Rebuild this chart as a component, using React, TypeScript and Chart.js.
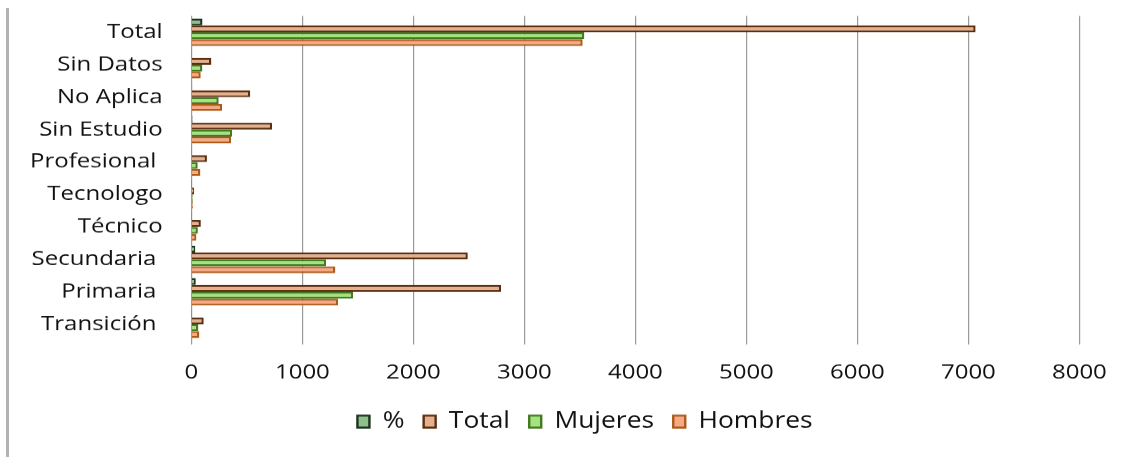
import React, { useEffect, useRef } from "react";
import { Chart, registerables } from "chart.js";

Chart.register(...registerables);

const categories = [
  "Total",
  "Sin Datos",
  "No Aplica",
  "Sin Estudio",
  "Profesional ",
  "Tecnologo",
  "Técnico",
  "Secundaria ",
  "Primaria ",
  "Transición ",
];

const seriesNames = ["%", "Total", "Mujeres", "Hombres"];

const porcentaje = [100, 2.5, 7.5, 10.3, 2.0, 0.4, 1.2, 35.4, 39.5, 1.6];
const totalValues = [7065, 180, 530, 727, 140, 25, 85, 2490, 2790, 111];
const mujeresValues = [3540, 99, 246, 367, 57, 12, 58, 1213, 1457, 63];
const hombresValues = [3525, 84, 276, 358, 81, 13, 45, 1297, 1321, 72];

const xTicks = [0, 1000, 2000, 3000, 4000, 5000, 6000, 7000, 8000];

const FONT = "'Open Sans', sans-serif";
const STRETCH = 1.2;
const TEXT = "#111111";

export default function App() {
  const ref = useRef<HTMLCanvasElement | null>(null);

  useEffect(() => {
    if (!ref.current) return;
    const chart = new Chart(ref.current, {
      type: "bar",
      data: {
        labels: categories,
        datasets: [
          {
            label: seriesNames[0],
            data: porcentaje,
            backgroundColor: "#8fbf8c",
            borderColor: "#1c331c",
            borderWidth: 2,
          },
          {
            label: seriesNames[1],
            data: totalValues,
            backgroundColor: "#e6b08c",
            borderColor: "#5a2e10",
            borderWidth: 2,
          },
          {
            label: seriesNames[2],
            data: mujeresValues,
            backgroundColor: "#a4e480",
            borderColor: "#467a22",
            borderWidth: 2,
          },
          {
            label: seriesNames[3],
            data: hombresValues,
            backgroundColor: "#f7a983",
            borderColor: "#ad5a18",
            borderWidth: 2,
          },
        ],
      },
      options: {
        indexAxis: "y",
        responsive: true,
        maintainAspectRatio: false,
        animation: false,
        devicePixelRatio: STRETCH,
        layout: { padding: { top: 8, right: 0, bottom: 15, left: 0 } },
        datasets: {
          bar: { categoryPercentage: 0.85, barPercentage: 1.0 },
        },
        scales: {
          x: {
            type: "linear",
            min: 0,
            max: 8000,
            afterBuildTicks: (scale: any) => {
              scale.ticks = xTicks.map((v) => ({ value: v }));
            },
            afterFit: (scale: any) => {
              scale.height = 54;
              scale.paddingRight = 68;
              scale.paddingLeft = 0;
            },
            ticks: {
              font: { family: FONT, size: 20, weight: "500" },
              color: TEXT,
              padding: 16,
              maxRotation: 0,
              callback: (v: any) => String(v),
            },
            grid: {
              color: "#9a9a9a",
              lineWidth: 1,
              tickLength: 4,
              drawTicks: true,
            },
            border: { display: false },
          },
          y: {
            afterFit: (scale: any) => {
              scale.width = 152;
              scale.paddingTop = 0;
              scale.paddingBottom = 0;
            },
            ticks: {
              font: { family: FONT, size: 20, weight: "500" },
              color: TEXT,
              padding: 24,
            },
            grid: { display: false, drawTicks: false },
            border: { display: false },
          },
        },
        plugins: {
          legend: {
            position: "bottom",
            labels: {
              font: { family: FONT, size: 22, weight: "500" },
              color: TEXT,
              boxWidth: 10,
              boxHeight: 12,
              padding: 16,
            },
          },
          title: { display: false },
          tooltip: { enabled: false },
        },
      },
    });
    return () => chart.destroy();
  }, []);

  return (
    <div
      style={{
        position: "absolute",
        left: 6,
        top: 8,
        width: 1126,
        height: 449,
        borderLeft: "3px solid #b3b3b3",
        overflow: "hidden",
        boxSizing: "border-box",
        background: "#fff",
      }}
    >
      <div
        style={{
          width: 960,
          height: 449,
          transform: `scaleX(${STRETCH})`,
          transformOrigin: "0 0",
        }}
      >
        <canvas ref={ref} />
      </div>
    </div>
  );
}
